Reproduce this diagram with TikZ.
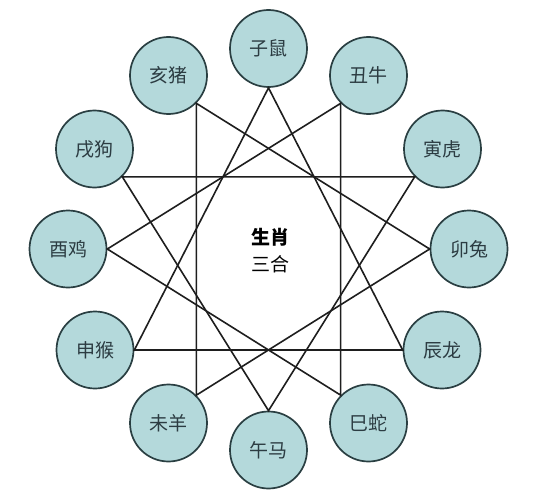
\documentclass[tikz,border=0pt]{standalone}
\usepackage{fontspec}
\setmainfont{Noto Sans CJK SC}
\definecolor{circfill}{HTML}{B4D9DB}
\definecolor{circstroke}{HTML}{2A3F42}
\definecolor{labeltext}{HTML}{2C3C42}
\definecolor{linecol}{HTML}{1E1E1E}
\begin{document}
\begin{tikzpicture}[x=1pt,y=-1pt,
  animal/.style={circle, draw=circstroke, fill=circfill, line width=1.7pt,
    minimum size=77pt, inner sep=0pt, text=labeltext,
    font=\fontsize{19}{22}\selectfont},
  link/.style={draw=linecol, line width=1.6pt, line join=miter},
  title/.style={align=center, text=black, font=\fontsize{19}{27}\selectfont}]
\useasboundingbox (0,0) rectangle (553,500);
\fill[white] (0,0) rectangle (553,500);
% circles
\node[animal] (zi)   at (268.5, 48.5) {子鼠};
\node[animal] (hai)  at (168.5, 75.5) {亥猪};
\node[animal] (chou) at (368.5, 75.5) {丑牛};
\node[animal] (xu)   at (94.5, 149)   {戌狗};
\node[animal] (yin)  at (442.5, 149)  {寅虎};
\node[animal] (you)  at (68, 249)     {酉鸡};
\node[animal] (mao)  at (469, 249)    {卯兔};
\node[animal] (shen) at (95, 350)     {申猴};
\node[animal] (chen) at (442, 350)    {辰龙};
\node[animal] (wei)  at (168.5, 423)  {未羊};
\node[animal] (si)   at (368.5, 423)  {巳蛇};
\node[animal] (wu)   at (268.5, 450)  {午马};
% centre text
\node[title] (center) at (270, 251) {{\bfseries 生肖}\\[0pt]三合};
% triangles
\draw[link] (shen.east) -- (zi.south) -- (chen.west) -- cycle;
\draw[link] (hai.south east) -- (mao.west) -- (wei.north east) -- cycle;
\draw[link] (yin.south west) -- (wu.north) -- (xu.south east) -- cycle;
\draw[link] (si.north west) -- (you.east) -- (chou.south west) -- cycle;
\end{tikzpicture}
\end{document}
